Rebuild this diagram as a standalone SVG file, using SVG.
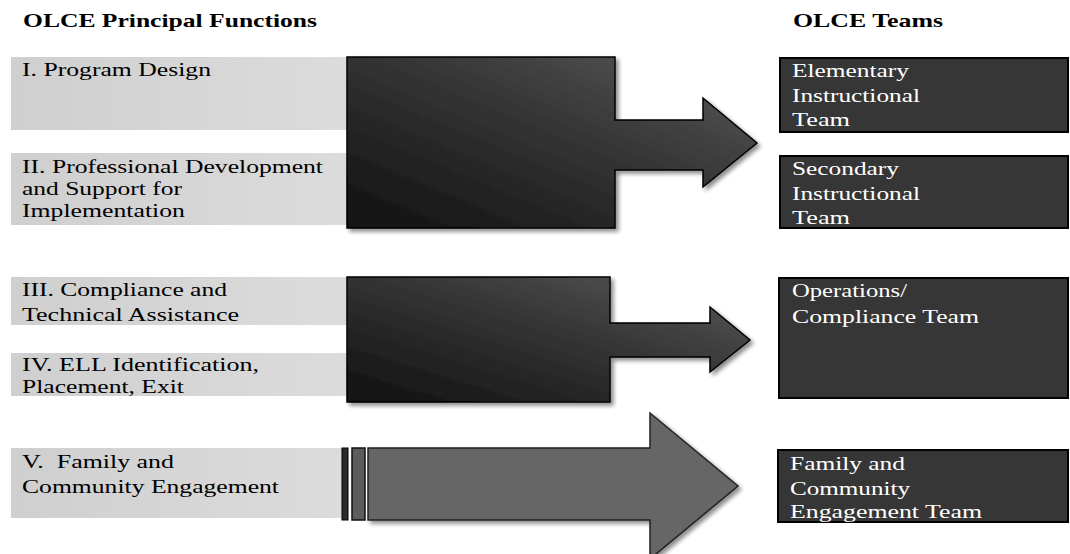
<svg xmlns="http://www.w3.org/2000/svg" width="1070" height="554" viewBox="0 0 1070 554">
<defs>
<linearGradient id="dark" x1="0" y1="1" x2="1" y2="0">
<stop offset="0" stop-color="#111"/>
<stop offset="0.55" stop-color="#353535"/>
<stop offset="1" stop-color="#5a5a5a"/>
</linearGradient>
<linearGradient id="light" x1="0" y1="0" x2="1" y2="0">
<stop offset="0" stop-color="#cfcfcf"/>
<stop offset="1" stop-color="#dcdcdc"/>
</linearGradient>
<filter id="sh" x="-5%" y="-5%" width="115%" height="120%">
<feGaussianBlur in="SourceAlpha" stdDeviation="2"/>
<feOffset dx="3" dy="3" result="b"/>
<feComponentTransfer><feFuncA type="linear" slope="0.45"/></feComponentTransfer>
<feMerge><feMergeNode/><feMergeNode in="SourceGraphic"/></feMerge>
</filter>
</defs>
<style>
.hd{font-family:"Liberation Serif","Times New Roman",serif;font-weight:bold;font-size:19px;fill:#000}
.lt{font-family:"Liberation Serif","Times New Roman",serif;font-size:19px;fill:#000}
.rt{font-family:"Liberation Serif","Times New Roman",serif;font-size:18px;fill:#fff}
.fn{fill:url(#light)}
.tm{fill:#363636;stroke:#000;stroke-width:2}
.blk{fill:url(#dark);stroke:#000;stroke-width:1.5;filter:url(#sh)}
.big{fill:#666;stroke:#222;stroke-width:1.5;filter:url(#sh)}
</style>
<rect width="1070" height="554" fill="#fff"/>
<text class="hd" x="23" y="27" textLength="294" lengthAdjust="spacingAndGlyphs">OLCE Principal Functions</text>
<text class="hd" x="793" y="27" textLength="150" lengthAdjust="spacingAndGlyphs">OLCE Teams</text>

<g id="f1"><rect class="fn" x="11" y="57" width="340" height="73"/>
<text class="lt" x="22" y="76" textLength="189" lengthAdjust="spacingAndGlyphs">I. Program Design</text></g>
<g id="f2"><rect class="fn" x="11" y="153" width="340" height="72"/>
<text class="lt" x="22" y="173" textLength="301" lengthAdjust="spacingAndGlyphs">II. Professional Development</text>
<text class="lt" x="22" y="195" textLength="160" lengthAdjust="spacingAndGlyphs">and Support for</text>
<text class="lt" x="22" y="217" textLength="163" lengthAdjust="spacingAndGlyphs">Implementation</text></g>
<g id="f3"><rect class="fn" x="11" y="277" width="340" height="48"/>
<text class="lt" x="22" y="296" textLength="205" lengthAdjust="spacingAndGlyphs">III. Compliance and</text>
<text class="lt" x="22" y="321" textLength="217" lengthAdjust="spacingAndGlyphs">Technical Assistance</text></g>
<g id="f4"><rect class="fn" x="11" y="353" width="340" height="43"/>
<text class="lt" x="22" y="371" textLength="237" lengthAdjust="spacingAndGlyphs">IV. ELL Identification,</text>
<text class="lt" x="22" y="393" textLength="162" lengthAdjust="spacingAndGlyphs">Placement, Exit</text></g>
<g id="f5"><rect class="fn" x="11" y="448" width="336" height="70"/>
<text class="lt" x="22" y="468" textLength="152" lengthAdjust="spacingAndGlyphs" xml:space="preserve">V.  Family and</text>
<text class="lt" x="22" y="493" textLength="257" lengthAdjust="spacingAndGlyphs">Community Engagement</text></g>

<g id="connectors">
<path class="blk" d="M347,57 H615 V120 H703 V98 L757,143 L703,187 V170 H615 V228 H347 Z"/>
<path class="blk" d="M347,277 H610 V323 H710 V307 L750,340 L710,372 V357 H610 V402 H347 Z"/>
<path class="big" d="M368,448 H650 V413 L738,486 L650,559 V520 H368 Z"/>
<rect x="352" y="448" width="13" height="72" fill="#5c5c5c" stroke="#111" stroke-width="1.5"/>
<rect x="342" y="448" width="6" height="72" fill="#2a2a2a" stroke="#000" stroke-width="1"/>
</g>

<g id="t1"><rect class="tm" x="780" y="58" width="288" height="74"/>
<text class="rt" x="792" y="77" textLength="117" lengthAdjust="spacingAndGlyphs">Elementary</text>
<text class="rt" x="792" y="102" textLength="128" lengthAdjust="spacingAndGlyphs">Instructional</text>
<text class="rt" x="792" y="126" textLength="58" lengthAdjust="spacingAndGlyphs">Team</text></g>
<g id="t2"><rect class="tm" x="780" y="156" width="288" height="72"/>
<text class="rt" x="792" y="175" textLength="107" lengthAdjust="spacingAndGlyphs">Secondary</text>
<text class="rt" x="792" y="200" textLength="128" lengthAdjust="spacingAndGlyphs">Instructional</text>
<text class="rt" x="792" y="224" textLength="58" lengthAdjust="spacingAndGlyphs">Team</text></g>
<g id="t3"><rect class="tm" x="779" y="278" width="289" height="120"/>
<text class="rt" x="792" y="297" textLength="115" lengthAdjust="spacingAndGlyphs">Operations/</text>
<text class="rt" x="792" y="323" textLength="187" lengthAdjust="spacingAndGlyphs">Compliance Team</text></g>
<g id="t4"><rect class="tm" x="778" y="450" width="290" height="72"/>
<text class="rt" x="790" y="470" textLength="115" lengthAdjust="spacingAndGlyphs">Family and</text>
<text class="rt" x="790" y="495" textLength="120" lengthAdjust="spacingAndGlyphs">Community</text>
<text class="rt" x="790" y="518" textLength="192" lengthAdjust="spacingAndGlyphs">Engagement Team</text></g>
</svg>
